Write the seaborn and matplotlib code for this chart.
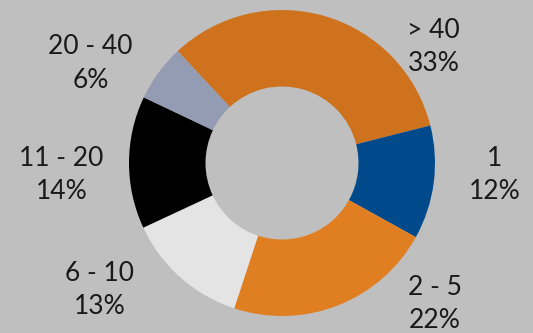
import matplotlib
matplotlib.use("Agg")
import matplotlib.pyplot as plt
import seaborn as sns

# Share of accounts by group size
categories = ["> 40", "1", "2 - 5", "6 - 10", "11 - 20", "20 - 40"]
shares = [33, 12, 22, 13, 14, 6]
colors = ["#CE721E", "#004A8C", "#E07E22", "#E4E4E4", "#000000", "#949CB4"]

# Label anchor points (data units, outer radius = 1)
label_x = [0.99, 1.39, 1.00, -1.19, -1.44, -1.25]
label_y = [0.76, -0.08, -0.92, -0.83, -0.08, 0.65]

sns.set_theme(style="white")
plt.rcParams["font.family"] = ["Lato", "DejaVu Sans"]

bg = "#BFBFBF"
fig = plt.figure(figsize=(5.33, 3.33), dpi=100, facecolor=bg)
ax = fig.add_axes([0, 0, 1, 1])
ax.set_facecolor(bg)

wedges, _ = ax.pie(
    shares,
    colors=colors,
    startangle=133,
    counterclock=False,
    radius=1.0,
    wedgeprops=dict(width=0.5, linewidth=0),
)

for cat, val, x, y in zip(categories, shares, label_x, label_y):
    ax.text(x, y, f"{cat}\n{val}%", ha="center", va="center",
            fontsize=19, fontweight="normal", color="#1a1a1a",
            linespacing=1.42)

ax.set_xlim(-282 / 153, (533 - 282) / 153)
ax.set_ylim(-(333 - 163) / 153, 163 / 153)
ax.set_aspect("auto")
ax.axis("off")

fig.savefig("out.png", dpi=100, facecolor=bg)
